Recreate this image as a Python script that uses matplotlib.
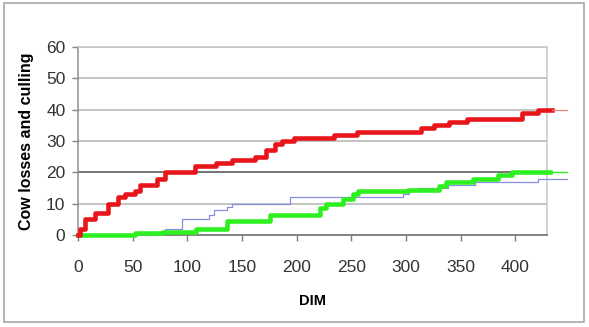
import numpy as np
import matplotlib.pyplot as plt
from matplotlib.patches import Rectangle

plt.rcParams['font.family'] = ['Liberation Sans', 'DejaVu Sans']

# step data (DIM where the count changes, count from there on)
RED_DIM = [0, 2, 6, 16, 27, 37, 43, 52, 57, 72, 80, 107, 126, 141, 162, 172,
           180, 187, 198, 234, 255, 314, 326, 339, 356, 406, 421, 434]
RED_VAL = [0, 2, 5, 7, 10, 12, 13, 14, 16, 18, 20, 22, 23, 24, 25, 27,
           29, 30, 31, 32, 33, 34, 35, 36, 37, 39, 40, 40]

GREEN_DIM = [0, 52, 78, 108, 136, 176, 221, 227, 242, 252, 256, 302, 330,
             337, 361, 384, 397, 432]
GREEN_VAL = [0, 0.5, 1, 2, 4.5, 6.5, 8.5, 10, 11.5, 13, 14, 14.5, 15.5,
             17, 18, 19, 20, 20]

BLUE_DIM = [0, 70, 80, 95, 120, 124, 136, 141, 194, 297, 303, 310, 338,
            363, 421, 447]
BLUE_VAL = [0, 1, 2, 5, 6.5, 8, 9, 10, 12, 13, 14, 15, 16, 17, 18, 18]

END_DIM = 447
XTICKS = list(range(0, 401, 50))
YTICKS = list(range(0, 61, 10))

RED = "#e8161b"
GREEN = "#2ff01f"
BLUE = "#8a8ee0"

fig = plt.figure(figsize=(5.89, 3.27), dpi=100)
fig.patches.append(Rectangle((0.007, 0.015), 0.985, 0.975, transform=fig.transFigure,
                             fill=False, edgecolor="#a8a8a8", lw=1.2))
ax = fig.add_axes([0.1324, 0.2813, 0.7963, 0.575])

for y in YTICKS[1:]:
    c = "#505050" if y == 20 else "#b4b4b4"
    ax.axhline(y, color=c, lw=1.1, zorder=1)

ax.plot(BLUE_DIM, BLUE_VAL, drawstyle="steps-post", color=BLUE, lw=0.9,
        zorder=3, clip_on=False)
ax.plot(GREEN_DIM, GREEN_VAL, drawstyle="steps-post", color=GREEN, lw=3.3,
        zorder=4, clip_on=False)
ax.plot([GREEN_DIM[-1], END_DIM], [GREEN_VAL[-1]] * 2, color=GREEN, lw=1.0,
        zorder=4, clip_on=False)
ax.plot(RED_DIM, RED_VAL, drawstyle="steps-post", color=RED, lw=3.3, zorder=5,
        clip_on=False)
ax.plot([RED_DIM[-1], END_DIM], [RED_VAL[-1]] * 2, color="#f08080", lw=0.9,
        zorder=5, clip_on=False)

ax.set_xlim(0, 429)
ax.set_ylim(0, 60)
ax.set_xticks(XTICKS)
ax.set_yticks(YTICKS)
ax.tick_params(axis="both", labelsize=12.5, labelcolor="#333333", color="#808080",
               length=4, width=1)
ax.tick_params(axis="x", pad=14)
ax.tick_params(axis="y", pad=5)

ax.spines["left"].set_color("#909090")
ax.spines["bottom"].set_color("#606060")
ax.spines["top"].set_color("#c8c8c8")
ax.spines["right"].set_color("#c8c8c8")
for s in ax.spines.values():
    s.set_linewidth(1.1)

ax.set_ylabel("Cow losses and culling", fontsize=11.5, fontweight="bold", labelpad=9)
ax.set_xlabel("DIM", fontsize=10.5, fontweight="bold", labelpad=14)

plt.savefig("out.png", dpi=100)
